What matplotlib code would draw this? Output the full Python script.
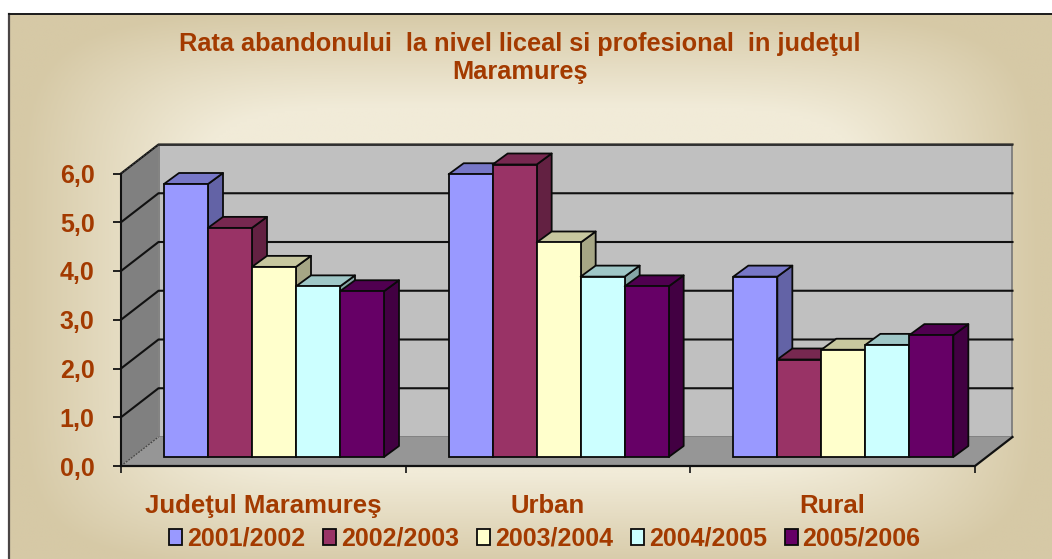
import numpy as np
import matplotlib
matplotlib.use("Agg")
import matplotlib.pyplot as plt
from matplotlib.colors import LinearSegmentedColormap, to_rgb
from matplotlib.patches import Patch, Polygon

plt.rcParams["font.family"] = ["Liberation Sans", "DejaVu Sans"]

categories = ["Judeţul Maramureş", "Urban", "Rural"]
years = ["2001/2002", "2002/2003", "2003/2004", "2004/2005", "2005/2006"]
s_2001 = [5.6, 5.8, 3.7]
s_2002 = [4.7, 6.0, 2.0]
s_2003 = [3.9, 4.4, 2.2]
s_2004 = [3.5, 3.7, 2.3]
s_2005 = [3.4, 3.5, 2.5]
series = [s_2001, s_2002, s_2003, s_2004, s_2005]
colors = ["#9999FF", "#993366", "#FFFFCC", "#CCFFFF", "#660066"]
y_ticks = [0, 1, 2, 3, 4, 5, 6]
title = "Rata abandonului  la nivel liceal si profesional  in judeţul\nMaramureş"

W, H = 1052, 559
TXT = "#A33A00"

fig = plt.figure(figsize=(W / 100, H / 100), dpi=100, facecolor="white")

# background panel with a soft rectangular gradient
bg = fig.add_axes([0, 0, 1, 1], zorder=0)
bg.axis("off")
xx, yy = np.meshgrid(np.linspace(9, W, 300), np.linspace(14, H, 200))
dx = np.abs(xx - 530) / 510
dy = np.abs(yy - 290) / 280
t = np.clip(((dx**6 + dy**6) ** (1 / 6) - 0.66) / 0.34, 0, 1)
cmap = LinearSegmentedColormap.from_list("panel", ["#F1EBD8", "#D6C9A6"])
bg.imshow(t, cmap=cmap, extent=(9, W, H, 14), aspect="auto", vmin=0, vmax=1)
bg.set_xlim(0, W)
bg.set_ylim(H, 0)
bg.plot([9, 9], [14, H], color="#4a4545", lw=1.6)
bg.plot([9, W], [14, 14], color="#1a1a1a", lw=1.4)

# plot axes: front plane of the 3D box
ax = fig.add_axes([121 / W, (H - 466) / H, 854 / W, 292.5 / H], zorder=1)
ax.patch.set_alpha(0)
ax.set_xlim(0, 3)
ax.set_ylim(0, 6)
for s in ax.spines.values():
    s.set_visible(False)

DX = 37.5 / (854 / 3)   # box depth, in axis units
DY = 29 / (292.5 / 6)


def poly(pts, fc, ec="none", lw=0.0, z=1):
    ax.add_patch(Polygon(pts, closed=True, fc=fc, ec=ec, lw=lw, zorder=z,
                         clip_on=False, joinstyle="round"))


# walls and floor
poly([(DX, DY), (3 + DX, DY), (3 + DX, 6 + DY), (DX, 6 + DY)], "#C0C0C0", "#777777", 1.2)
poly([(0, 0), (DX, DY), (DX, 6 + DY), (0, 6)], "#808080", "none")
poly([(0, 0), (3, 0), (3 + DX, DY), (DX, DY)], "#969696", "none")

# gridlines on side and back walls
for v in y_ticks[1:]:
    ax.plot([0, DX, 3 + DX], [v, v + DY, v + DY], color="#111111", lw=1.5, zorder=2, clip_on=False)
ax.plot([DX, 3 + DX], [6 + DY, 6 + DY], color="#333333", lw=1.3, zorder=2, clip_on=False)
ax.plot([0, DX], [6, 6 + DY], color="#333333", lw=1.0, ls=(0, (1.5, 1)), zorder=2, clip_on=False)
ax.plot([0, DX], [0, DY], color="#444444", lw=0.9, ls=(0, (1.5, 1)), zorder=2, clip_on=False)
ax.plot([0, 0], [0, 6], color="#111111", lw=1.5, zorder=3, clip_on=False)
ax.plot([0, 3, 3 + DX], [0, 0, DY], color="#111111", lw=1.6, zorder=3, clip_on=False)

# bars
bw = 44 / (854 / 3)
gap = 31 / (854 / 3)
base_x = 12 / (854 / 3)
base_y = 9 / (292.5 / 6)
bar_dx = 15 / (854 / 3)
bar_dy = 11 / (292.5 / 6)
for c in range(len(categories)):
    for k, vals in enumerate(series):
        v = vals[c]
        x0 = c + base_x + gap + k * bw
        x1 = x0 + bw
        y0 = base_y
        y1 = base_y + v
        z = 5 + c * 10 + k
        rgb = np.array(to_rgb(colors[k]))
        poly([(x1, y0), (x1 + bar_dx, y0 + bar_dy), (x1 + bar_dx, y1 + bar_dy), (x1, y1)],
             tuple(rgb * 0.65), "#0a0a0a", 1.3, z)
        poly([(x0, y1), (x1, y1), (x1 + bar_dx, y1 + bar_dy), (x0 + bar_dx, y1 + bar_dy)],
             tuple(rgb * 0.78), "#0a0a0a", 1.3, z)
        ax.bar(x0, v, width=bw, bottom=y0, align="edge", color=colors[k], edgecolor="#0a0a0a",
               linewidth=1.3, zorder=z, clip_on=False)

# axes ticks and labels
ax.set_yticks(y_ticks)
ax.set_yticklabels([f"{v:.1f}".replace(".", ",") for v in y_ticks],
                   fontsize=18, fontweight="bold", color=TXT)
ax.tick_params(axis="y", length=6, width=1.3, color="#111111", pad=13)
ax.set_xticks([0, 1, 2, 3])
ax.set_xticklabels([])
ax.tick_params(axis="x", length=5, width=1.2, color="#111111")
ax.set_xticks([0.5, 1.5, 2.5], minor=True)
ax.set_xticklabels(categories, minor=True, fontsize=18.5, fontweight="bold", color=TXT)
ax.tick_params(axis="x", which="minor", length=0, pad=20)

fig.text(520 / W, 1 - 58 / H, title, ha="center", va="center", fontsize=18.3,
         fontweight="bold", color=TXT, linespacing=1.2)

handles = [Patch(fc=c, ec="#0a0a0a", lw=1.3) for c in colors]
fig.legend(handles, years, loc="center", bbox_to_anchor=(545 / W, 1 - 539 / H), ncols=5,
           frameon=False, handlelength=0.52, handleheight=0.6, handletextpad=0.2,
           columnspacing=0.71, labelcolor=TXT, prop={"weight": "bold", "size": 18},
           borderpad=0, borderaxespad=0)

fig.savefig("out.png", dpi=100)
